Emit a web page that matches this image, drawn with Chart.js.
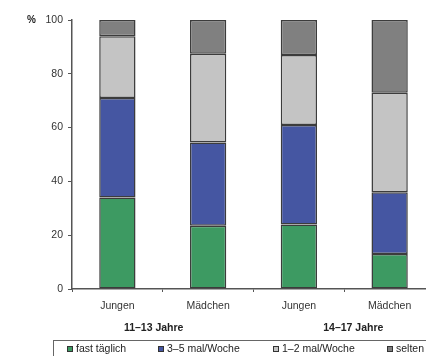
<!DOCTYPE html>
<html>
<head>
<meta charset="utf-8">
<script src="https://cdn.jsdelivr.net/npm/chart.js@4/dist/chart.umd.min.js"></script>
<style>
  html, body { margin: 0; padding: 0; background: #fff; overflow: hidden; width: 426px; height: 356px; }
  canvas { position: absolute; left: 0; top: 0; }
</style>
</head>
<body>
<canvas id="c" width="480" height="356"></canvas>
<script>
// Sport frequency by gender and age group (percent of respondents)
const categories = ['Jungen', 'Mädchen', 'Jungen', 'Mädchen'];
const groupLabels = ['11–13 Jahre', '14–17 Jahre'];
const seriesNames = ['fast täglich', '3–5 mal/Woche', '1–2 mal/Woche', 'selten'];
const fastTaeglich = [34, 23.5, 24, 13];
const dreiBisFuenf = [37, 31, 37, 23];
const einsBisZwei = [23, 33, 26, 37];
const selten = [6, 12.5, 13, 27];
const yTicks = [0, 20, 40, 60, 80, 100];

const colors = ['#3d9a62', '#4556a2', '#c4c4c4', '#808080'];
const FONT = '"Liberation Sans", Arial, sans-serif';

const seriesValues = [fastTaeglich, dreiBisFuenf, einsBisZwei, selten];

// Extra texts: unit label, group captions and boxed legend
const decorations = {
  id: 'decorations',
  afterDraw(chart) {
    const ctx = chart.ctx;
    const x = chart.scales.x;
    const y = chart.scales.y;
    ctx.save();
    ctx.fillStyle = '#222';
    ctx.textBaseline = 'middle';

    ctx.font = 'bold 10px ' + FONT;
    ctx.textAlign = 'left';
    ctx.fillText('%', 27, y.getPixelForValue(100));

    ctx.font = 'bold 10.5px ' + FONT;
    ctx.textAlign = 'center';
    const groupPos = [0.4, 2.6];
    groupLabels.forEach((g, i) => {
      ctx.fillText(g, x.getPixelForValue(groupPos[i]), 328);
    });

    // legend frame
    ctx.strokeStyle = '#666';
    ctx.lineWidth = 1;
    ctx.strokeRect(53.5, 340.5, 420, 40);

    const itemX = [67, 158, 273, 387];
    ctx.font = '10.5px ' + FONT;
    ctx.textAlign = 'left';
    seriesNames.forEach((name, i) => {
      ctx.fillStyle = colors[i];
      ctx.fillRect(itemX[i], 346, 6, 6);
      ctx.strokeStyle = '#333';
      ctx.strokeRect(itemX[i] + 0.5, 346.5, 5, 5);
      ctx.fillStyle = '#222';
      ctx.fillText(name, itemX[i] + 9, 349.5);
    });
    ctx.restore();
  }
};

new Chart(document.getElementById('c'), {
  type: 'bar',
  data: {
    labels: categories,
    datasets: seriesNames.map((name, i) => ({
      label: name,
      data: seriesValues[i],
      backgroundColor: colors[i],
      borderColor: '#3c3c3c',
      borderWidth: 1.5,
      borderSkipped: false,
      categoryPercentage: 1,
      barPercentage: 0.4
    }))
  },
  options: {
    responsive: false,
    animation: false,
    devicePixelRatio: 1,
    layout: { padding: { left: 0, right: 45, top: 20, bottom: 0 } },
    plugins: { legend: { display: false }, tooltip: { enabled: false } },
    scales: {
      x: {
        stacked: true,
        afterFit(s) { s.height = 67; },
        grid: { offset: true, drawOnChartArea: false, drawTicks: true, tickLength: 3, color: '#555' },
        border: { color: '#555', width: 1.5 },
        ticks: { color: '#333', padding: 8, font: { family: FONT, size: 10.5 }, maxRotation: 0 }
      },
      y: {
        stacked: true,
        min: 0,
        max: 100,
        afterFit(s) { s.width = 72; },
        afterBuildTicks(s) { s.ticks = yTicks.map(v => ({ value: v })); },
        grid: { drawOnChartArea: false, drawTicks: true, tickLength: 4, color: '#555' },
        border: { color: '#555', width: 1.5 },
        ticks: { color: '#333', padding: 5, font: { family: FONT, size: 10.5 } }
      }
    }
  },
  plugins: [decorations]
});
</script>
</body>
</html>
